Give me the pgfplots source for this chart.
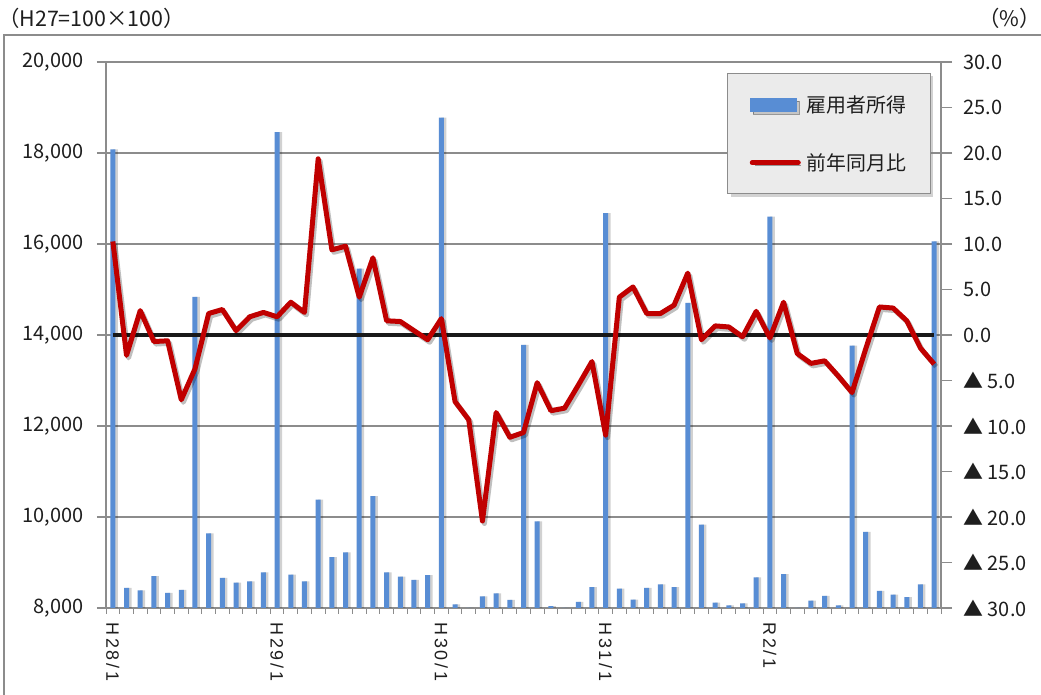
\documentclass[border=0pt]{standalone}
\usepackage{fontspec}
\usepackage{pgfplots}
\pgfplotsset{compat=1.18}
\usepackage{pgfplotstable}
\usetikzlibrary{shadows}
\setmainfont{Noto Sans CJK JP}
\newfontfamily\xlabfont[LetterSpace=15]{Liberation Sans}
\definecolor{barblue}{RGB}{88,141,212}
\definecolor{linered}{RGB}{192,0,0}
\definecolor{gridgray}{RGB}{140,140,140}
\definecolor{legfill}{RGB}{235,235,235}
\definecolor{txt}{RGB}{30,30,30}

\pgfplotstableread{
idx bar rate
0 18080 10.28
1 8440 -2.24
2 8390 2.68
3 8700 -0.72
4 8330 -0.64
5 8400 -7.12
6 14840 -3.72
7 9640 2.36
8 8664 2.8
9 8560 0.48
10 8584 2.0
11 8784 2.48
12 18456 2.0
13 8736 3.6
14 8584 2.48
15 10384 19.36
16 9120 9.36
17 9224 9.76
18 15456 4.16
19 10456 8.48
20 8784 1.56
21 8688 1.48
22 8616 0.48
23 8720 -0.52
24 18776 1.8
25 8080 -7.32
26 7990 -9.32
27 8256 -20.44
28 8320 -8.52
29 8176 -11.24
30 13784 -10.72
31 9904 -5.24
32 8040 -8.32
33 8000 -8.04
34 8136 -5.52
35 8456 -2.92
36 16680 -11.0
37 8424 4.16
38 8184 5.28
39 8440 2.36
40 8520 2.36
41 8456 3.28
42 14704 6.8
43 9832 -0.52
44 8120 1.0
45 8056 0.88
46 8104 -0.2
47 8672 2.6
48 16600 -0.32
49 8744 3.6
50 8000 -2.04
51 8160 -3.12
52 8264 -2.84
53 8056 -4.52
54 13768 -6.32
55 9672 -1.52
56 8376 3.08
57 8296 2.96
58 8240 1.56
59 8520 -1.44
60 16056 -3.2
}\datatable

\begin{document}
\begin{tikzpicture}[x=1bp,y=1bp]
\useasboundingbox (0,0) rectangle (1041,695);
\fill[white] (0,0) rectangle (1041,695);
\draw[gridgray, line width=1.5bp] (4,-10) -- (4,660) -- (1060,660);
\node[anchor=west, font=\fontsize{21.5}{24}\selectfont, text=txt, inner sep=0] at (-2,677) {（H27=100×100）};
\node[anchor=east, font=\fontsize{21.5}{24}\selectfont, text=txt, inner sep=0] at (1041,677) {（\%）};

\begin{axis}[at={(106bp,87bp)}, anchor=south west, scale only axis,
  width=835bp, height=546bp,
  xmin=-0.5, xmax=60.5, ymin=8000, ymax=20000,
  ybar, bar width=5bp,
  ytick={8000,10000,...,20000},
  xtick={0,12,24,36,48},
  xticklabels={H28/1,H29/1,H30/1,H31/1,R2/1},
  minor xtick={-0.5,0.5,...,60.5},
  major x tick style={draw=none},
  minor x tick style={gridgray, line width=1bp},
  y tick style={gridgray, line width=1.2bp},
  tick align=outside, tick pos=left,
  major tick length=9bp, minor tick length=6bp,
  ymajorgrids, major grid style={gridgray, line width=1.2bp},
  axis line style={gridgray, line width=1.5bp},
  scaled y ticks=false,
  /pgf/number format/1000 sep={,},
  /pgf/number format/assume math mode=true,
  yticklabel style={font=\fontsize{20}{24}\selectfont, text=txt, xshift=-10bp},
  xticklabel style={font=\xlabfont\fontsize{18}{20}\selectfont, text=txt, rotate=-90, anchor=west, xshift=2bp},
]
\addplot[fill=black, draw=none, opacity=0.18, bar shift=2.5bp] table[x=idx, y=bar] {\datatable};
\addplot[fill=barblue, draw=none, bar shift=0bp] table[x=idx, y=bar] {\datatable};
\end{axis}

\begin{axis}[at={(106bp,87bp)}, anchor=south west, scale only axis,
  width=835bp, height=546bp,
  xmin=-0.5, xmax=60.5, ymin=-30, ymax=30,
  axis y line*=right, axis x line=none,
  ytick={-30,-25,...,30},
  yticklabels={▲ 30.0,▲ 25.0,▲ 20.0,▲ 15.0,▲ 10.0,▲ 5.0,0.0,5.0,10.0,15.0,20.0,25.0,30.0},
  tick align=outside, major tick length=11bp,
  y tick style={gridgray, line width=1.2bp},
  axis line style={gridgray, line width=1.5bp},
  yticklabel style={font=\fontsize{20}{24}\selectfont, text=txt, anchor=west, xshift=8bp},
  legend style={at={(0.744,0.98)}, anchor=north west, draw=gridgray, line width=1bp,
    fill=legfill, font=\fontsize{20}{24}\selectfont, text=txt,
    inner xsep=22bp, inner ysep=20bp, row sep=36bp,
    /tikz/every odd column/.append style={column sep=4bp},
    drop shadow={shadow xshift=3bp, shadow yshift=-3bp, opacity=0.35}},
  legend cell align=left,
]
\addplot[black!90, line width=4bp, forget plot] coordinates {(0,0) (60,0)};
\addplot[black, opacity=0.25, line width=5bp, line join=round, xshift=2bp, yshift=-2.5bp, forget plot] table[x=idx, y=rate] {\datatable};
\addplot[linered, line width=5bp, line join=round, forget plot] table[x=idx, y=rate] {\datatable};
\addlegendimage{legend image code/.code={\fill[barblue] (0bp,-6.5bp) rectangle (46bp,6.5bp);}}
\addlegendentry{雇用者所得}
\addlegendimage{legend image code/.code={\draw[linered, line width=5bp, line cap=round] (2bp,0bp) -- (48bp,0bp);}}
\addlegendentry{前年同月比}
\end{axis}
\end{tikzpicture}
\end{document}
